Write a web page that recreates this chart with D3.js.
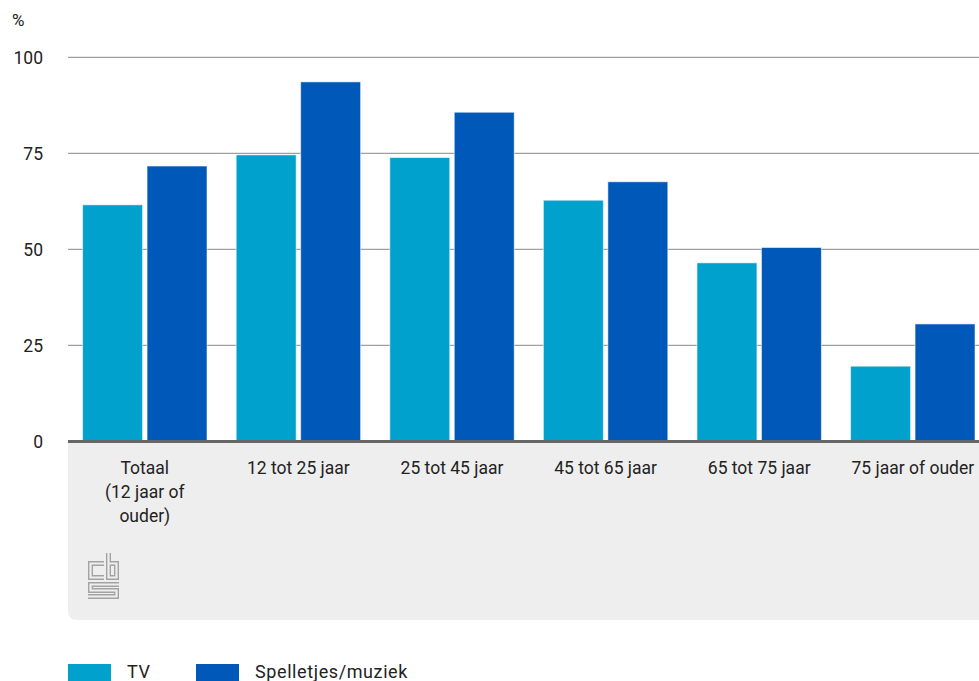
<!DOCTYPE html>
<html>
<head>
<meta charset="utf-8">
<script src="https://cdn.jsdelivr.net/npm/d3@7"></script>
<style>
  html, body { margin: 0; padding: 0; background: #fff; }
  svg { display: block; font-family: Roboto, "Noto Sans", sans-serif; }
</style>
</head>
<body>
<svg id="chart" width="979" height="681"></svg>
<script>
// Share of people per age group using the internet for TV and games/music (%)
const categories = [
  ["Totaal", "(12 jaar of", "ouder)"],
  ["12 tot 25 jaar"],
  ["25 tot 45 jaar"],
  ["45 tot 65 jaar"],
  ["65 tot 75 jaar"],
  ["75 jaar of ouder"]
];
const seriesNames = ["TV", "Spelletjes/muziek"];
const tvValues = [61.6, 74.6, 73.9, 62.8, 46.5, 19.6];
const gameMusicValues = [71.7, 93.6, 85.7, 67.6, 50.5, 30.6];
const yTicks = [0, 25, 50, 75, 100];
const colors = ["#00a1cd", "#0058b8"];

const svg = d3.select("#chart");
const plotLeft = 68, plotTop = 57.3, plotBottom = 441.5;
const bandWidth = 153.6;
const plotRight = plotLeft + bandWidth * categories.length;

const x = d3.scaleBand()
  .domain(d3.range(categories.length))
  .range([plotLeft, plotRight])
  .paddingInner(0.19)
  .paddingOuter(0.095);

const xSeries = d3.scaleBand()
  .domain(d3.range(seriesNames.length))
  .range([0, x.bandwidth()])
  .paddingInner(0.07);

const y = d3.scaleLinear().domain([0, 100]).range([plotBottom, plotTop]);

// Grey label panel below the axis, rounded at the bottom-left
const panelBottom = 620, r = 9;
svg.append("path")
  .attr("d", `M${plotLeft},${plotBottom} H${plotRight} V${panelBottom} H${plotLeft + r} Q${plotLeft},${panelBottom} ${plotLeft},${panelBottom - r} Z`)
  .attr("fill", "#eeeeee");

// Horizontal gridlines
svg.append("g")
  .selectAll("line")
  .data(yTicks.filter(d => d > 0))
  .join("line")
  .attr("x1", plotLeft).attr("x2", plotRight)
  .attr("y1", d => y(d)).attr("y2", d => y(d))
  .attr("stroke", "#a0a0a0")
  .attr("stroke-width", 1.2);

// Y-axis tick labels
const yAxis = d3.axisLeft(y).tickValues(yTicks).tickSize(0).tickPadding(0);
const gy = svg.append("g").attr("transform", `translate(43,0)`).call(yAxis);
gy.select(".domain").remove();
gy.selectAll("text")
  .attr("font-size", 17.5)
  .attr("fill", "#222")
  .attr("font-family", "Roboto, sans-serif")
  .attr("dy", "0.35em");

svg.append("text")
  .attr("x", 12).attr("y", 26)
  .attr("font-size", 17)
  .attr("fill", "#222")
  .text("%");

// Bars
const data = categories.map((c, i) => [tvValues[i], gameMusicValues[i]]);
svg.append("g")
  .selectAll("g")
  .data(data)
  .join("g")
  .attr("transform", (d, i) => `translate(${x(i)},0)`)
  .selectAll("rect")
  .data(d => d.map((v, s) => ({ v, s })))
  .join("rect")
  .attr("x", d => xSeries(d.s))
  .attr("width", xSeries.bandwidth())
  .attr("y", d => y(d.v))
  .attr("height", d => y(0) - y(d.v))
  .attr("fill", d => colors[d.s])
  .attr("stroke", "rgba(255,255,255,0.55)")
  .attr("stroke-width", 1);

// Baseline
svg.append("line")
  .attr("x1", plotLeft).attr("x2", plotRight)
  .attr("y1", plotBottom).attr("y2", plotBottom)
  .attr("stroke", "#666")
  .attr("stroke-width", 3);

// Category labels
const labels = svg.append("g")
  .selectAll("text")
  .data(categories)
  .join("text")
  .attr("x", (d, i) => x(i) + x.bandwidth() / 2)
  .attr("y", 474)
  .attr("text-anchor", "middle")
  .attr("font-size", 17.5)
  .attr("fill", "#222");
labels.selectAll("tspan")
  .data(d => d)
  .join("tspan")
  .attr("x", function () { return this.parentNode.getAttribute("x"); })
  .attr("dy", (d, i) => i === 0 ? 0 : 24)
  .text(d => d);

// Logo mark in the panel: thick grey strokes hollowed by a lighter inner stroke
const logoPaths = [
  "M16,10.5 H2.5 V24.5 H16",
  "M20.5,0 V24.5 H28.5 V10.5 H20.5",
  "M31,31.5 H2.5 V37.5 H28.5 V43.5 H0"
];
const logo = svg.append("g")
  .attr("transform", "translate(88,553)")
  .attr("fill", "none")
  .attr("stroke-linejoin", "miter")
  .attr("stroke-linecap", "butt");
logo.selectAll("path.outer").data(logoPaths).join("path")
  .attr("class", "outer")
  .attr("d", d => d)
  .attr("stroke", "#a3a3a3")
  .attr("stroke-width", 5);
logo.selectAll("path.inner").data(logoPaths).join("path")
  .attr("class", "inner")
  .attr("d", d => d)
  .attr("stroke", "#eeeeee")
  .attr("stroke-width", 2.2);

// Legend
const legend = svg.append("g");
const legendX = [68, 196];
seriesNames.forEach((name, i) => {
  legend.append("rect")
    .attr("x", legendX[i]).attr("y", 664)
    .attr("width", 43).attr("height", 18)
    .attr("fill", colors[i]);
  legend.append("text")
    .attr("x", legendX[i] + 59).attr("y", 677.5)
    .attr("font-size", 18)
    .attr("letter-spacing", 0.6)
    .attr("fill", "#222")
    .text(name);
});
</script>
</body>
</html>
